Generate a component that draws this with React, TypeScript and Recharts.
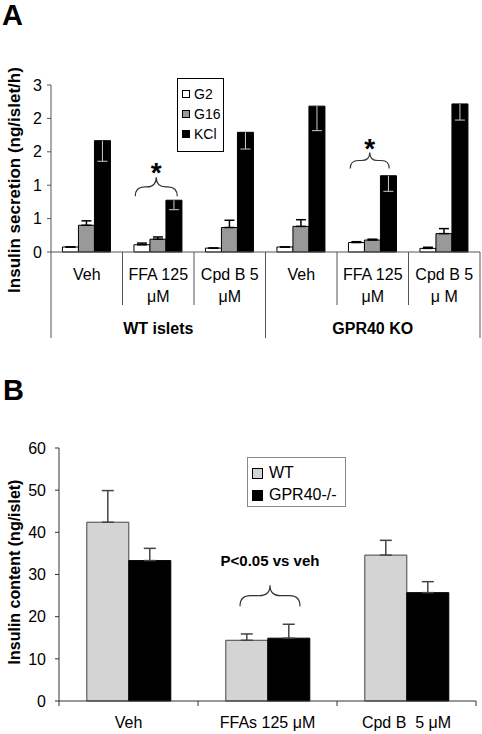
import { Bar, BarChart, ErrorBar, Legend, Rectangle, ReferenceDot, XAxis, YAxis } from "recharts";

// panel A: insulin secretion
const conditions = ["Veh", "FFA 125\nμM", "Cpd B 5\nμM", "Veh", "FFA 125\nμM", "Cpd B 5\nμ M"];
const genotypesA = ["WT islets", "GPR40 KO"];
const g2 = [0.09, 0.13, 0.07, 0.09, 0.17, 0.065];
const g2Err = [0, 0.03, 0, 0, 0.015, 0.02];
const g16 = [0.48, 0.23, 0.44, 0.46, 0.215, 0.33];
const g16Err = [0.08, 0.04, 0.13, 0.12, 0.015, 0.09];
const kcl = [2.0, 0.93, 2.15, 2.62, 1.37, 2.66];
const kclErr = [0.37, 0.17, 0.3, 0.44, 0.28, 0.29];
const ticksA = [0, 0.6, 1.2, 1.8, 2.4, 3];

// panel B: insulin content
const treatments = ["Veh", "FFAs 125 μM", "Cpd B  5 μM"];
const wt = [42.4, 14.4, 34.6];
const wtErr = [7.5, 1.5, 3.5];
const ko = [33.3, 14.9, 25.7];
const koErr = [2.9, 3.3, 2.6];
const ticksB = [0, 10, 20, 30, 40, 50, 60];

const rowsA = conditions.map((c, i) => ({
    key: `c${i}`,
    g2: g2[i],
    g2Err: [0, g2Err[i]],
    g16: g16[i],
    g16Err: [0, g16Err[i]],
    kcl: kcl[i],
    kclErr: kclErr[i],
}));

const rowsB = treatments.map((t, i) => ({
    name: t,
    wt: wt[i],
    wtErr: [0, wtErr[i]],
    ko: ko[i],
    koErr: [0, koErr[i]],
}));

const FONT = "'Liberation Sans', Arial, sans-serif";
const AXIS = "#555";

function CondTick(props: any) {
    const { x, y, payload } = props;
    const i = payload.index;
    const half = payload.offset || 35.75;
    const lines = conditions[i].split("\n");
    const groupStart = i % 3 === 0;
    const last = i === conditions.length - 1;
    return (
        <g>
            <line x1={x - half} x2={x - half} y1={y} y2={y + (groupStart ? 86 : 53)} stroke={AXIS} />
            {last && <line x1={x + half} x2={x + half} y1={y} y2={y + 86} stroke={AXIS} />}
            <text x={x} y={y + 28} textAnchor="middle" fontSize={16} fill="#000">
                {lines.map((l, k) => (
                    <tspan key={k} x={x} dy={k === 0 ? 0 : 22}>{l}</tspan>
                ))}
            </text>
            {i % 3 === 1 && (
                <text x={x} y={y + 82} textAnchor="middle" fontSize={16} fontWeight="bold" fill="#000">
                    {genotypesA[Math.floor(i / 3)]}
                </text>
            )}
        </g>
    );
}

function TreatTick(props: any) {
    const { x, y, payload } = props;
    const i = payload.index;
    const half = payload.offset || 69.5;
    return (
        <g>
            <line x1={x - half} x2={x - half} y1={y} y2={y + 5} stroke="#333" />
            {i === treatments.length - 1 && <line x1={x + half} x2={x + half} y1={y} y2={y + 5} stroke="#333" />}
            <text x={x} y={y + 27} textAnchor="middle" fontSize={16} fill="#000" style={{ whiteSpace: "pre" }}>
                {treatments[i]}
            </text>
        </g>
    );
}

// KCl bars: error drawn downward inside the bar, no cap on top
function KclBar(props: any) {
    const { x, y, width, height, payload } = props;
    const perUnit = payload.kcl ? height / payload.kcl : 0;
    const errPx = payload.kclErr * perUnit;
    const cx = x + width / 2;
    return (
        <g>
            <Rectangle x={x} y={y} width={width} height={height} fill="#000" stroke="#000" />
            <line x1={cx} x2={cx} y1={y} y2={y + errPx} stroke="#ccc" />
            <line x1={cx - 5} x2={cx + 5} y1={y + errPx} y2={y + errPx} stroke="#ccc" />
        </g>
    );
}

function Brace(props: any) {
    const { cx, cy, w, h, dx = 0, text, textSize, textGap, bold } = props;
    const r = h / 2;
    const d = `M ${-w},0 Q ${-w},${-r} ${-w + r},${-r} L ${-r},${-r} Q 0,${-r} 0,${-h} Q 0,${-r} ${r},${-r} L ${w - r},${-r} Q ${w},${-r} ${w},0`;
    return (
        <g transform={`translate(${cx + dx},${cy})`}>
            <path d={d} fill="none" stroke="#333" strokeWidth={1.2} />
            <text x={0} y={-h - textGap} textAnchor="middle" fontSize={textSize} fontWeight={bold ? "bold" : "normal"} fill="#000">
                {text}
            </text>
        </g>
    );
}

const legendA = [
    { name: "G2", fill: "#fff" },
    { name: "G16", fill: "#999" },
    { name: "KCl", fill: "#000" },
];

const legendB = [
    { name: "WT", fill: "#d4d4d4" },
    { name: "GPR40-/-", fill: "#000" },
];

function LegendBoxA() {
    return (
        <div style={{ border: "1px solid #000", background: "#fff", width: 45, height: 67, paddingTop: 5, boxSizing: "content-box" }}>
            {legendA.map((s) => (
                <div key={s.name} style={{ display: "flex", alignItems: "center", height: 20, fontSize: 14, paddingLeft: 4 }}>
                    <span style={{ width: 6, height: 6, border: "1px solid #000", background: s.fill, marginRight: 4, display: "inline-block" }} />
                    <span>{s.name}</span>
                </div>
            ))}
        </div>
    );
}

function LegendBoxB() {
    return (
        <div style={{ border: "1px solid #888", background: "#fff", width: 99, height: 50, paddingTop: 4, boxSizing: "border-box" }}>
            {legendB.map((s) => (
                <div key={s.name} style={{ display: "flex", alignItems: "center", height: 22, fontSize: 16, paddingLeft: 4 }}>
                    <span style={{ width: 9, height: 9, border: "1px solid #000", background: s.fill, marginRight: 6, display: "inline-block" }} />
                    <span>{s.name}</span>
                </div>
            ))}
        </div>
    );
}

export default function App() {
    return (
        <div style={{ position: "absolute", left: 0, top: 0, width: 482, height: 734, background: "#fff", fontFamily: FONT, color: "#000" }}>
            <svg width={482} height={734} style={{ position: "absolute", left: 0, top: 0 }}>
                <text x={2} y={25} fontSize={29} fontWeight="bold" fontFamily={FONT}>A</text>
                <text x={3} y={400} fontSize={29} fontWeight="bold" fontFamily={FONT}>B</text>
            </svg>

            <div style={{ position: "absolute", left: 0, top: 0 }}>
                <BarChart
                    width={482}
                    height={345}
                    data={rowsA}
                    margin={{ top: 85, right: 2, bottom: 3, left: 21 }}
                    barCategoryGap="16%"
                    barGap={0}
                >
                    <XAxis
                        dataKey="key"
                        height={90}
                        interval={0}
                        tickLine={false}
                        tickSize={0}
                        tickMargin={0}
                        stroke={AXIS}
                        tick={<CondTick />}
                    />
                    <YAxis
                        width={30}
                        domain={[0, 3]}
                        ticks={ticksA}
                        tickFormatter={(v: number) => String(Math.round(v))}
                        tickSize={4}
                        tickMargin={5}
                        stroke={AXIS}
                        tick={{ fontSize: 16, fill: "#000" }}
                        label={{
                            content: () => (
                                <text x={20} y={180} transform="rotate(-90, 20, 180)" textAnchor="middle" fontSize={17} fontWeight="bold" fill="#000">
                                    Insulin secretion (ng/islet/h)
                                </text>
                            ),
                        }}
                    />
                    <Legend
                        layout="vertical"
                        align="center"
                        verticalAlign="middle"
                        wrapperStyle={{ left: 177, top: 78, width: 47, height: 69 }}
                        content={() => <LegendBoxA />}
                    />
                    <Bar dataKey="g2" name="G2" fill="#fff" stroke="#000" isAnimationActive={false}>
                        <ErrorBar dataKey="g2Err" width={5} stroke="#000" direction="y" />
                    </Bar>
                    <Bar dataKey="g16" name="G16" fill="#999" stroke="#000" isAnimationActive={false}>
                        <ErrorBar dataKey="g16Err" width={5} stroke="#000" direction="y" />
                    </Bar>
                    <Bar dataKey="kcl" name="KCl" fill="#000" stroke="#000" shape={<KclBar />} isAnimationActive={false} />
                    <ReferenceDot
                        x="c1"
                        y={1.0}
                        r={0}
                        shape={(p: any) => <Brace cx={p.cx} cy={p.cy} w={21} h={19} dx={-2} text="*" textSize={28} textGap={-5} bold />}
                    />
                    <ReferenceDot
                        x="c4"
                        y={1.5}
                        r={0}
                        shape={(p: any) => <Brace cx={p.cx} cy={p.cy} w={19.5} h={16} dx={-3} text="*" textSize={28} textGap={-5} bold />}
                    />
                </BarChart>
            </div>

            <div style={{ position: "absolute", left: 0, top: 360 }}>
                <BarChart
                    width={482}
                    height={374}
                    data={rowsB}
                    margin={{ top: 88, right: 6, bottom: 0, left: 20 }}
                    barCategoryGap="20%"
                    barGap={0}
                >
                    <XAxis
                        dataKey="name"
                        height={33}
                        interval={0}
                        tickLine={false}
                        tickSize={0}
                        tickMargin={0}
                        stroke="#333"
                        tick={<TreatTick />}
                    />
                    <YAxis
                        width={39}
                        domain={[0, 60]}
                        ticks={ticksB}
                        tickSize={4}
                        tickMargin={9}
                        stroke="#333"
                        tick={{ fontSize: 16, fill: "#000" }}
                        label={{
                            content: () => (
                                <text x={20} y={212} transform="rotate(-90, 20, 212)" textAnchor="middle" fontSize={16} fontWeight="bold" fill="#000">
                                    Insulin content (ng/islet)
                                </text>
                            ),
                        }}
                    />
                    <Legend
                        layout="vertical"
                        align="center"
                        verticalAlign="middle"
                        wrapperStyle={{ left: 247, top: 97, width: 101, height: 52 }}
                        content={() => <LegendBoxB />}
                    />
                    <Bar dataKey="wt" name="WT" fill="#d4d4d4" stroke="#444" isAnimationActive={false}>
                        <ErrorBar dataKey="wtErr" width={6} stroke="#444" direction="y" />
                    </Bar>
                    <Bar dataKey="ko" name="GPR40-/-" fill="#000" stroke="#000" isAnimationActive={false}>
                        <ErrorBar dataKey="koErr" width={6} stroke="#444" direction="y" />
                    </Bar>
                    <ReferenceDot
                        x={treatments[1]}
                        y={22.5}
                        r={0}
                        shape={(p: any) => <Brace cx={p.cx} cy={p.cy} w={30} h={21} dx={2.5} text="P<0.05 vs veh" textSize={15} textGap={19} bold />}
                    />
                </BarChart>
            </div>
        </div>
    );
}
